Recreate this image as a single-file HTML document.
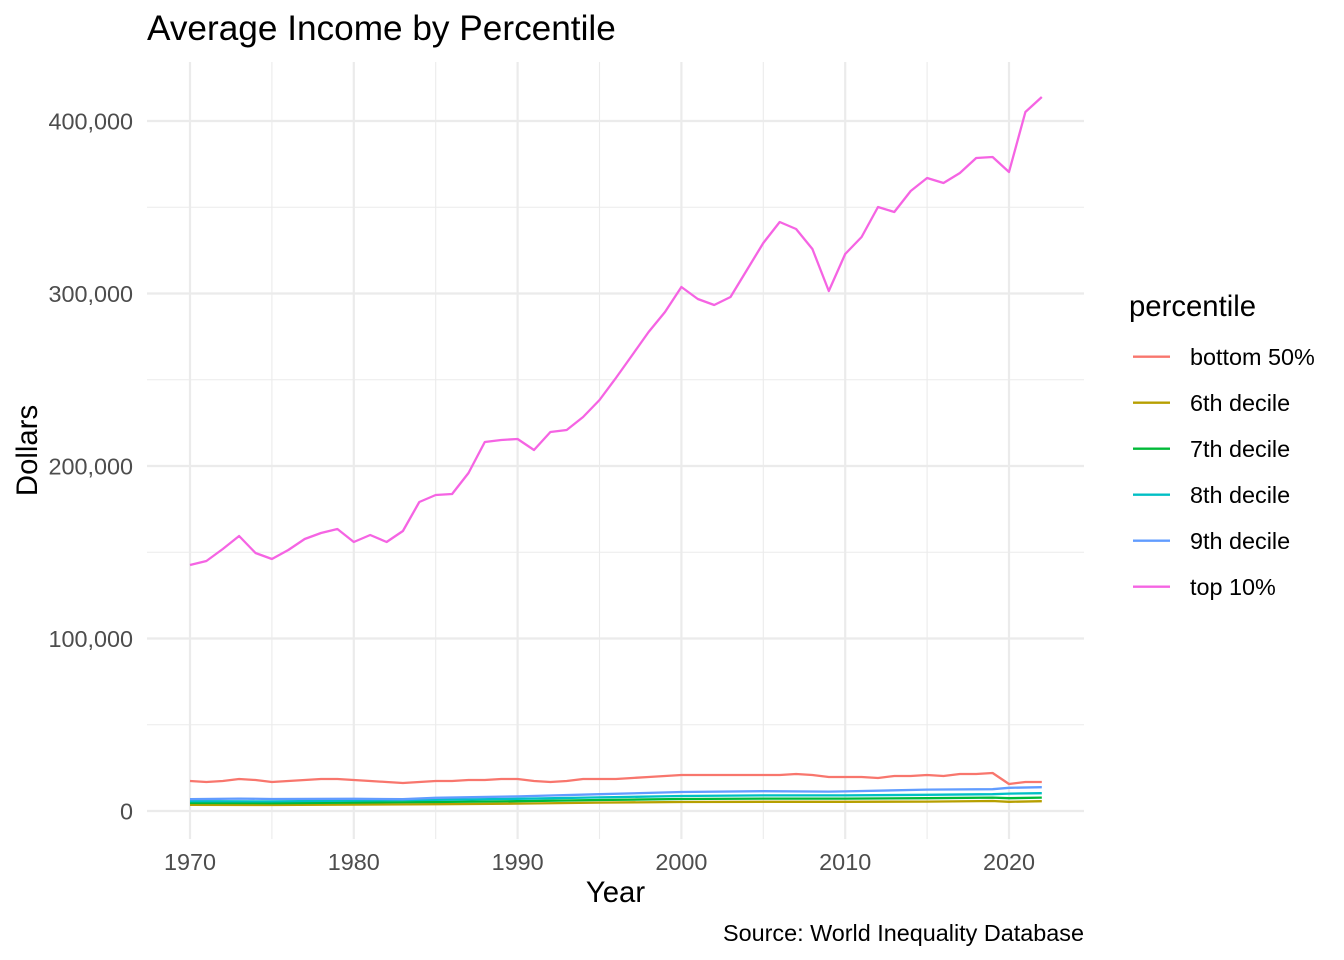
<!DOCTYPE html>
<html>
<head>
<meta charset="utf-8">
<style>
  html, body { margin: 0; padding: 0; background: #ffffff; }
  svg { display: block; }
  text { font-family: "Liberation Sans", Arial, Helvetica, sans-serif; }
</style>
</head>
<body>
<svg width="1344" height="960" viewBox="0 0 1344 960" xmlns="http://www.w3.org/2000/svg">
  <rect x="0" y="0" width="1344" height="960" fill="#ffffff"/>

  <!-- minor gridlines -->
  <g stroke="#EBEBEB" stroke-width="1.1" fill="none">
    <line x1="147" y1="724.75" x2="1084" y2="724.75"/>
    <line x1="147" y1="552.25" x2="1084" y2="552.25"/>
    <line x1="147" y1="379.75" x2="1084" y2="379.75"/>
    <line x1="147" y1="207.25" x2="1084" y2="207.25"/>
    <line x1="271.9" y1="62" x2="271.9" y2="839"/>
    <line x1="435.7" y1="62" x2="435.7" y2="839"/>
    <line x1="599.5" y1="62" x2="599.5" y2="839"/>
    <line x1="763.3" y1="62" x2="763.3" y2="839"/>
    <line x1="927.1" y1="62" x2="927.1" y2="839"/>
  </g>
  <!-- major gridlines -->
  <g stroke="#EBEBEB" stroke-width="2.2" fill="none">
    <line x1="147" y1="811" x2="1084" y2="811"/>
    <line x1="147" y1="638.5" x2="1084" y2="638.5"/>
    <line x1="147" y1="466" x2="1084" y2="466"/>
    <line x1="147" y1="293.5" x2="1084" y2="293.5"/>
    <line x1="147" y1="121" x2="1084" y2="121"/>
    <line x1="190" y1="62" x2="190" y2="839"/>
    <line x1="353.8" y1="62" x2="353.8" y2="839"/>
    <line x1="517.6" y1="62" x2="517.6" y2="839"/>
    <line x1="681.4" y1="62" x2="681.4" y2="839"/>
    <line x1="845.2" y1="62" x2="845.2" y2="839"/>
    <line x1="1009" y1="62" x2="1009" y2="839"/>
  </g>

  <!-- series -->
  <g fill="none" stroke-width="2.3" stroke-linejoin="round" stroke-linecap="butt">
    <!-- bottom 50% -->
    <polyline stroke="#F8766D" points="190.0,781 206.4,782 222.8,781 239.1,779 255.5,780 271.9,782 288.3,781 304.7,780 321.0,779 337.4,779 353.8,780 370.2,781 386.6,782 402.9,783 419.3,782 435.7,781 452.1,781 468.5,780 484.8,780 501.2,779 517.6,779 534.0,781 550.4,782 566.7,781 583.1,779 599.5,779 615.9,779 632.3,778 648.6,777 665.0,776 681.4,775 697.8,775 714.2,775 730.5,775 746.9,775 763.3,775 779.7,775 796.1,774 812.4,775 828.8,777 845.2,777 861.6,777 878.0,778 894.3,776 910.7,776 927.1,775 943.5,776 959.9,774 976.2,774 992.6,773 1009.0,784 1025.4,782 1041.8,782"/>
    <!-- 6th decile -->
    <polyline stroke="#B79F00" points="190.0,804.8 271.9,805 353.8,804.6 435.7,804.2 517.6,803.6 599.5,802.6 681.4,802 763.3,801.8 845.2,801.8 927.1,801.6 992.6,801 1009.0,801.8 1041.8,801.2"/>
    <!-- 7th decile -->
    <polyline stroke="#00BA38" points="190.0,803 271.9,803.2 353.8,802.6 435.7,802 517.6,801.2 599.5,800 681.4,799 763.3,798.6 845.2,798.6 927.1,798.2 992.6,797.6 1009.0,798.2 1041.8,797.6"/>
    <!-- 8th decile -->
    <polyline stroke="#00BFC4" points="190.0,801.2 271.9,801.4 353.8,800.6 435.7,799.8 517.6,798.8 599.5,797.4 681.4,796 763.3,795.4 845.2,795.4 927.1,794.8 992.6,794.2 1009.0,793.6 1041.8,793.2"/>
    <!-- 9th decile -->
    <polyline stroke="#619CFF" points="190.0,799.2 239.1,798.6 271.9,799 353.8,798.8 402.9,799.2 435.7,797.8 517.6,796.4 599.5,794.2 681.4,792 763.3,791.2 828.8,791.6 845.2,791.4 927.1,789.6 992.6,789.2 1009.0,787.8 1041.8,787.2"/>
    <!-- top 10% -->
    <polyline stroke="#F564E3" points="190.0,565 206.4,561 222.8,549 239.1,536 255.5,553 271.9,559 288.3,550 304.7,539 321.0,533 337.4,529 353.8,542 370.2,535 386.6,542 402.9,531 419.3,502 435.7,495 452.1,494 468.5,473 484.8,442 501.2,440 517.6,439 534.0,450 550.4,432 566.7,430 583.1,417 599.5,400 615.9,378 632.3,355 648.6,332 665.0,312 681.4,287 697.8,299 714.2,305 730.5,297 746.9,270 763.3,243 779.7,222 796.1,229 812.4,249 828.8,291 845.2,254 861.6,237 878.0,207 894.3,212 910.7,191 927.1,178 943.5,183 959.9,173 976.2,158 992.6,157 1009.0,172 1025.4,112 1041.8,97"/>
  </g>

  <!-- y tick labels -->
  <g fill="#4D4D4D" font-size="23.4" text-anchor="end">
    <text x="133" y="819.4">0</text>
    <text x="133" y="646.9">100,000</text>
    <text x="133" y="474.4">200,000</text>
    <text x="133" y="301.9">300,000</text>
    <text x="133" y="129.4">400,000</text>
  </g>
  <!-- x tick labels -->
  <g fill="#4D4D4D" font-size="23.4" text-anchor="middle">
    <text x="190" y="870">1970</text>
    <text x="353.8" y="870">1980</text>
    <text x="517.6" y="870">1990</text>
    <text x="681.4" y="870">2000</text>
    <text x="845.2" y="870">2010</text>
    <text x="1009" y="870">2020</text>
  </g>

  <!-- axis titles -->
  <text x="615.5" y="902" font-size="29.3" fill="#000" text-anchor="middle">Year</text>
  <text transform="translate(37,450.5) rotate(-90)" font-size="29.3" fill="#000" text-anchor="middle">Dollars</text>

  <!-- title -->
  <text x="147" y="40" font-size="35.2" fill="#000">Average Income by Percentile</text>

  <!-- caption -->
  <text x="1084" y="941" font-size="23.4" fill="#000" text-anchor="end">Source: World Inequality Database</text>

  <!-- legend -->
  <text x="1129" y="316" font-size="29.3" fill="#000">percentile</text>
  <g stroke-width="2.3">
    <line x1="1133" y1="356.7" x2="1170" y2="356.7" stroke="#F8766D"/>
    <line x1="1133" y1="402.7" x2="1170" y2="402.7" stroke="#B79F00"/>
    <line x1="1133" y1="448.7" x2="1170" y2="448.7" stroke="#00BA38"/>
    <line x1="1133" y1="494.7" x2="1170" y2="494.7" stroke="#00BFC4"/>
    <line x1="1133" y1="540.7" x2="1170" y2="540.7" stroke="#619CFF"/>
    <line x1="1133" y1="586.7" x2="1170" y2="586.7" stroke="#F564E3"/>
  </g>
  <g fill="#000" font-size="23.4">
    <text x="1190" y="365">bottom 50%</text>
    <text x="1190" y="411">6th decile</text>
    <text x="1190" y="457">7th decile</text>
    <text x="1190" y="503">8th decile</text>
    <text x="1190" y="549">9th decile</text>
    <text x="1190" y="595">top 10%</text>
  </g>
</svg>
</body>
</html>
